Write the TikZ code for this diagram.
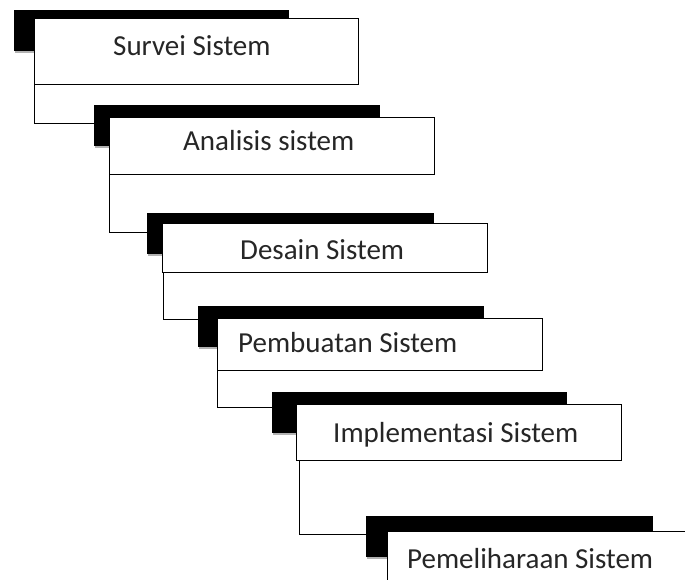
\documentclass[tikz,border=0pt]{standalone}
\usepackage{fontspec}
\setmainfont{Carlito}
\begin{document}
\begin{tikzpicture}[x=1pt,y=-1pt,
  blk/.style={draw=black,fill=black,inner sep=0pt,outer sep=0pt,anchor=north west,minimum height=40pt},
  soft/.style={fill=black!30,inner sep=0pt,outer sep=0pt,anchor=north west,minimum height=40pt},
  wbox/.style={draw=black,fill=white,line width=0.9pt,inner sep=0pt,outer sep=0pt,anchor=north west},
  lbl/.style={inner sep=0pt,anchor=base west,font=\fontsize{29}{34}\selectfont,text=black!85},
  conn/.style={draw=black,line width=0.9pt}]
\clip (0,0) rectangle (685,579);
\fill[white] (0,0) rectangle (685,579);
% box 1
\node[soft,minimum width=274pt] at (15,13) {};
\node[blk,minimum width=274pt] (sh1) at (14,10) {};
\node[wbox,minimum width=324pt,minimum height=66pt] (b1) at (34,18) {};
\node[lbl] (t1) at (113,55) {Survei Sistem};
% box 2
\node[soft,minimum width=285pt] at (95,108) {};
\node[blk,minimum width=285pt] (sh2) at (94,105) {};
\node[wbox,minimum width=325pt,minimum height=57pt] (b2) at (109,117) {};
\node[lbl] (t2) at (183,150) {Analisis sistem};
% box 3
\node[soft,minimum width=286pt] at (148,216) {};
\node[blk,minimum width=286pt] (sh3) at (147,213) {};
\node[wbox,minimum width=325pt,minimum height=49pt] (b3) at (162,223) {};
\node[lbl] (t3) at (240,259) {Desain Sistem};
% box 4
\node[soft,minimum width=285pt] at (199,309) {};
\node[blk,minimum width=285pt] (sh4) at (198,306) {};
\node[wbox,minimum width=325pt,minimum height=52pt] (b4) at (217,318) {};
\node[lbl] (t4) at (238,352) {Pembuatan Sistem};
% box 5
\node[soft,minimum width=294pt] at (273,395) {};
\node[blk,minimum width=294pt] (sh5) at (272,392) {};
\node[wbox,minimum width=325pt,minimum height=56pt] (b5) at (296,404) {};
\node[lbl] (t5) at (333,442) {Implementasi Sistem};
% box 6
\node[soft,minimum width=286pt] at (367,519) {};
\node[blk,minimum width=286pt] (sh6) at (366,516) {};
\node[wbox,minimum width=330pt,minimum height=60pt] (b6) at (387,531) {};
\node[lbl] (t6) at (407,568) {Pemeliharaan Sistem};
% connectors
\draw[conn] (b1.south west) |- ([yshift=2pt]sh2.west);
\draw[conn] (b2.south west) |- ([yshift=1pt]sh3.west);
\draw[conn] ([xshift=1pt]b3.south west) |- ([yshift=6.5pt]sh4.west);
\draw[conn] (b4.south west) |- ([yshift=4.5pt]sh5.west);
\draw[conn] ([xshift=3pt]b5.south west) |- ([yshift=1.5pt]sh6.west);
\end{tikzpicture}
\end{document}
